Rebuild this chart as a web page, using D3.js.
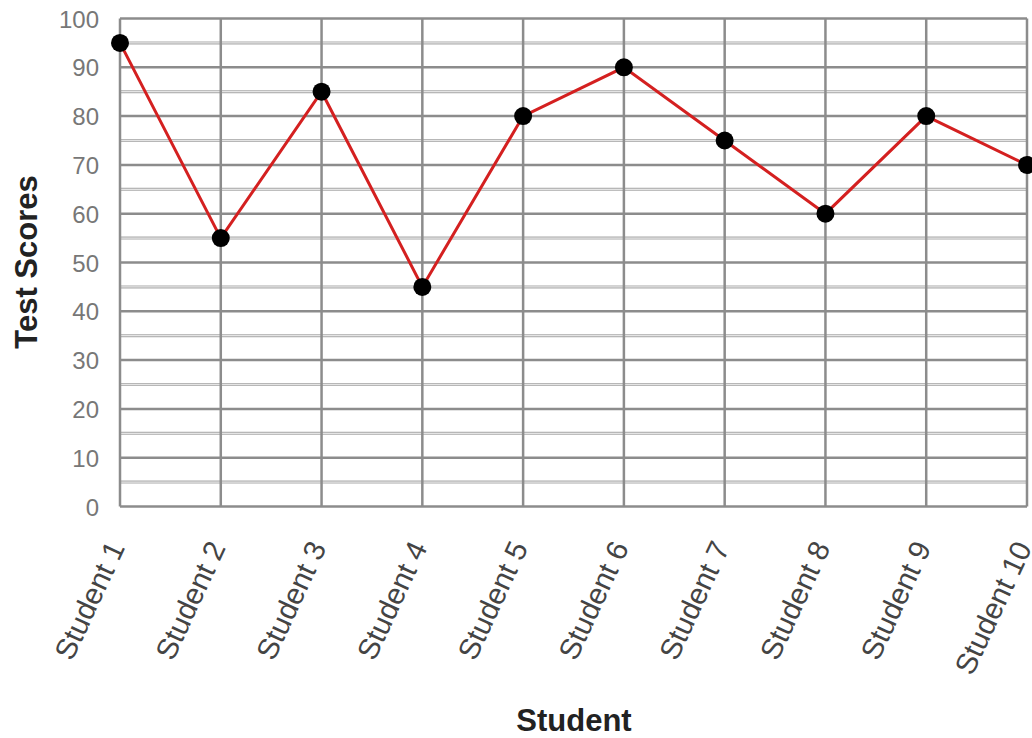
<!DOCTYPE html>
<html><head><meta charset="utf-8">
<script src="https://cdn.jsdelivr.net/npm/d3@7"></script>
<style>body{margin:0;background:#fff}</style>
</head><body><svg id="c" width="1032" height="738"></svg>
<script>
const categories = ["Student 1","Student 2","Student 3","Student 4","Student 5","Student 6","Student 7","Student 8","Student 9","Student 10"];
const scores = [95,55,85,45,80,90,75,60,80,70];
const yTicks = [0,10,20,30,40,50,60,70,80,90,100];
const yMinor = [5,15,25,35,45,55,65,75,85,95];

const svg = d3.select("#c");
const L=120, R=1027, T=18.5, B=506.5;
const x = d3.scalePoint().domain(categories).range([L,R]).padding(0);
const y = d3.scaleLinear().domain([0,100]).range([B,T]);
const font = "Liberation Sans, Arial, sans-serif";

// minor gridlines
const g = svg.append("g");
g.selectAll(".mn").data(yMinor).join("line")
  .attr("x1",L).attr("x2",R).attr("y1",d=>y(d)).attr("y2",d=>y(d))
  .attr("stroke","#a8a8a8").attr("stroke-width",3);
g.selectAll(".mn2").data(yMinor).join("line")
  .attr("x1",L).attr("x2",R).attr("y1",d=>y(d)).attr("y2",d=>y(d))
  .attr("stroke","#e4e4e4").attr("stroke-width",1.3);
// vertical gridlines
g.selectAll(".v").data(categories).join("line")
  .attr("x1",d=>x(d)).attr("x2",d=>x(d)).attr("y1",T).attr("y2",B)
  .attr("stroke","#8c8c8c").attr("stroke-width",2.5);
// major gridlines
g.selectAll(".mj").data(yTicks).join("line")
  .attr("x1",L).attr("x2",R).attr("y1",d=>y(d)).attr("y2",d=>y(d))
  .attr("stroke","#8c8c8c").attr("stroke-width",2.5);

// y axis labels
const ya = svg.append("g").attr("transform",`translate(${L-21},0)`)
  .call(d3.axisLeft(y).tickValues(yTicks).tickSize(0).tickPadding(0));
ya.select(".domain").remove();
ya.selectAll("text").attr("font-family",font).attr("font-size",24).attr("fill","#777").attr("dy","0.36em");

// x labels
const xa = svg.append("g").attr("transform",`translate(0,${B})`)
  .call(d3.axisBottom(x).tickSize(0).tickPadding(0));
xa.select(".domain").remove();
xa.selectAll("text")
  .attr("font-family",font).attr("font-size",29.5).attr("fill","#444")
  .attr("text-anchor","end").attr("dy",0)
  .attr("transform","translate(5,41) rotate(-65)");

// line
const line = d3.line().x((d,i)=>x(categories[i])).y(d=>y(d));
svg.append("path").datum(scores).attr("d",line)
  .attr("fill","none").attr("stroke","#d42020").attr("stroke-width",3);
svg.selectAll(".pt").data(scores).join("circle")
  .attr("cx",(d,i)=>x(categories[i])).attr("cy",d=>y(d)).attr("r",9).attr("fill","#000");

// titles
svg.append("text").attr("x",574).attr("y",731).attr("text-anchor","middle")
  .attr("font-family",font).attr("font-weight","bold").attr("font-size",31).attr("fill","#222").text("Student");
svg.append("text").attr("transform","translate(37,262) rotate(-90)").attr("text-anchor","middle")
  .attr("font-family",font).attr("font-weight","bold").attr("font-size",31).attr("fill","#222").text("Test Scores");
</script></body></html>
